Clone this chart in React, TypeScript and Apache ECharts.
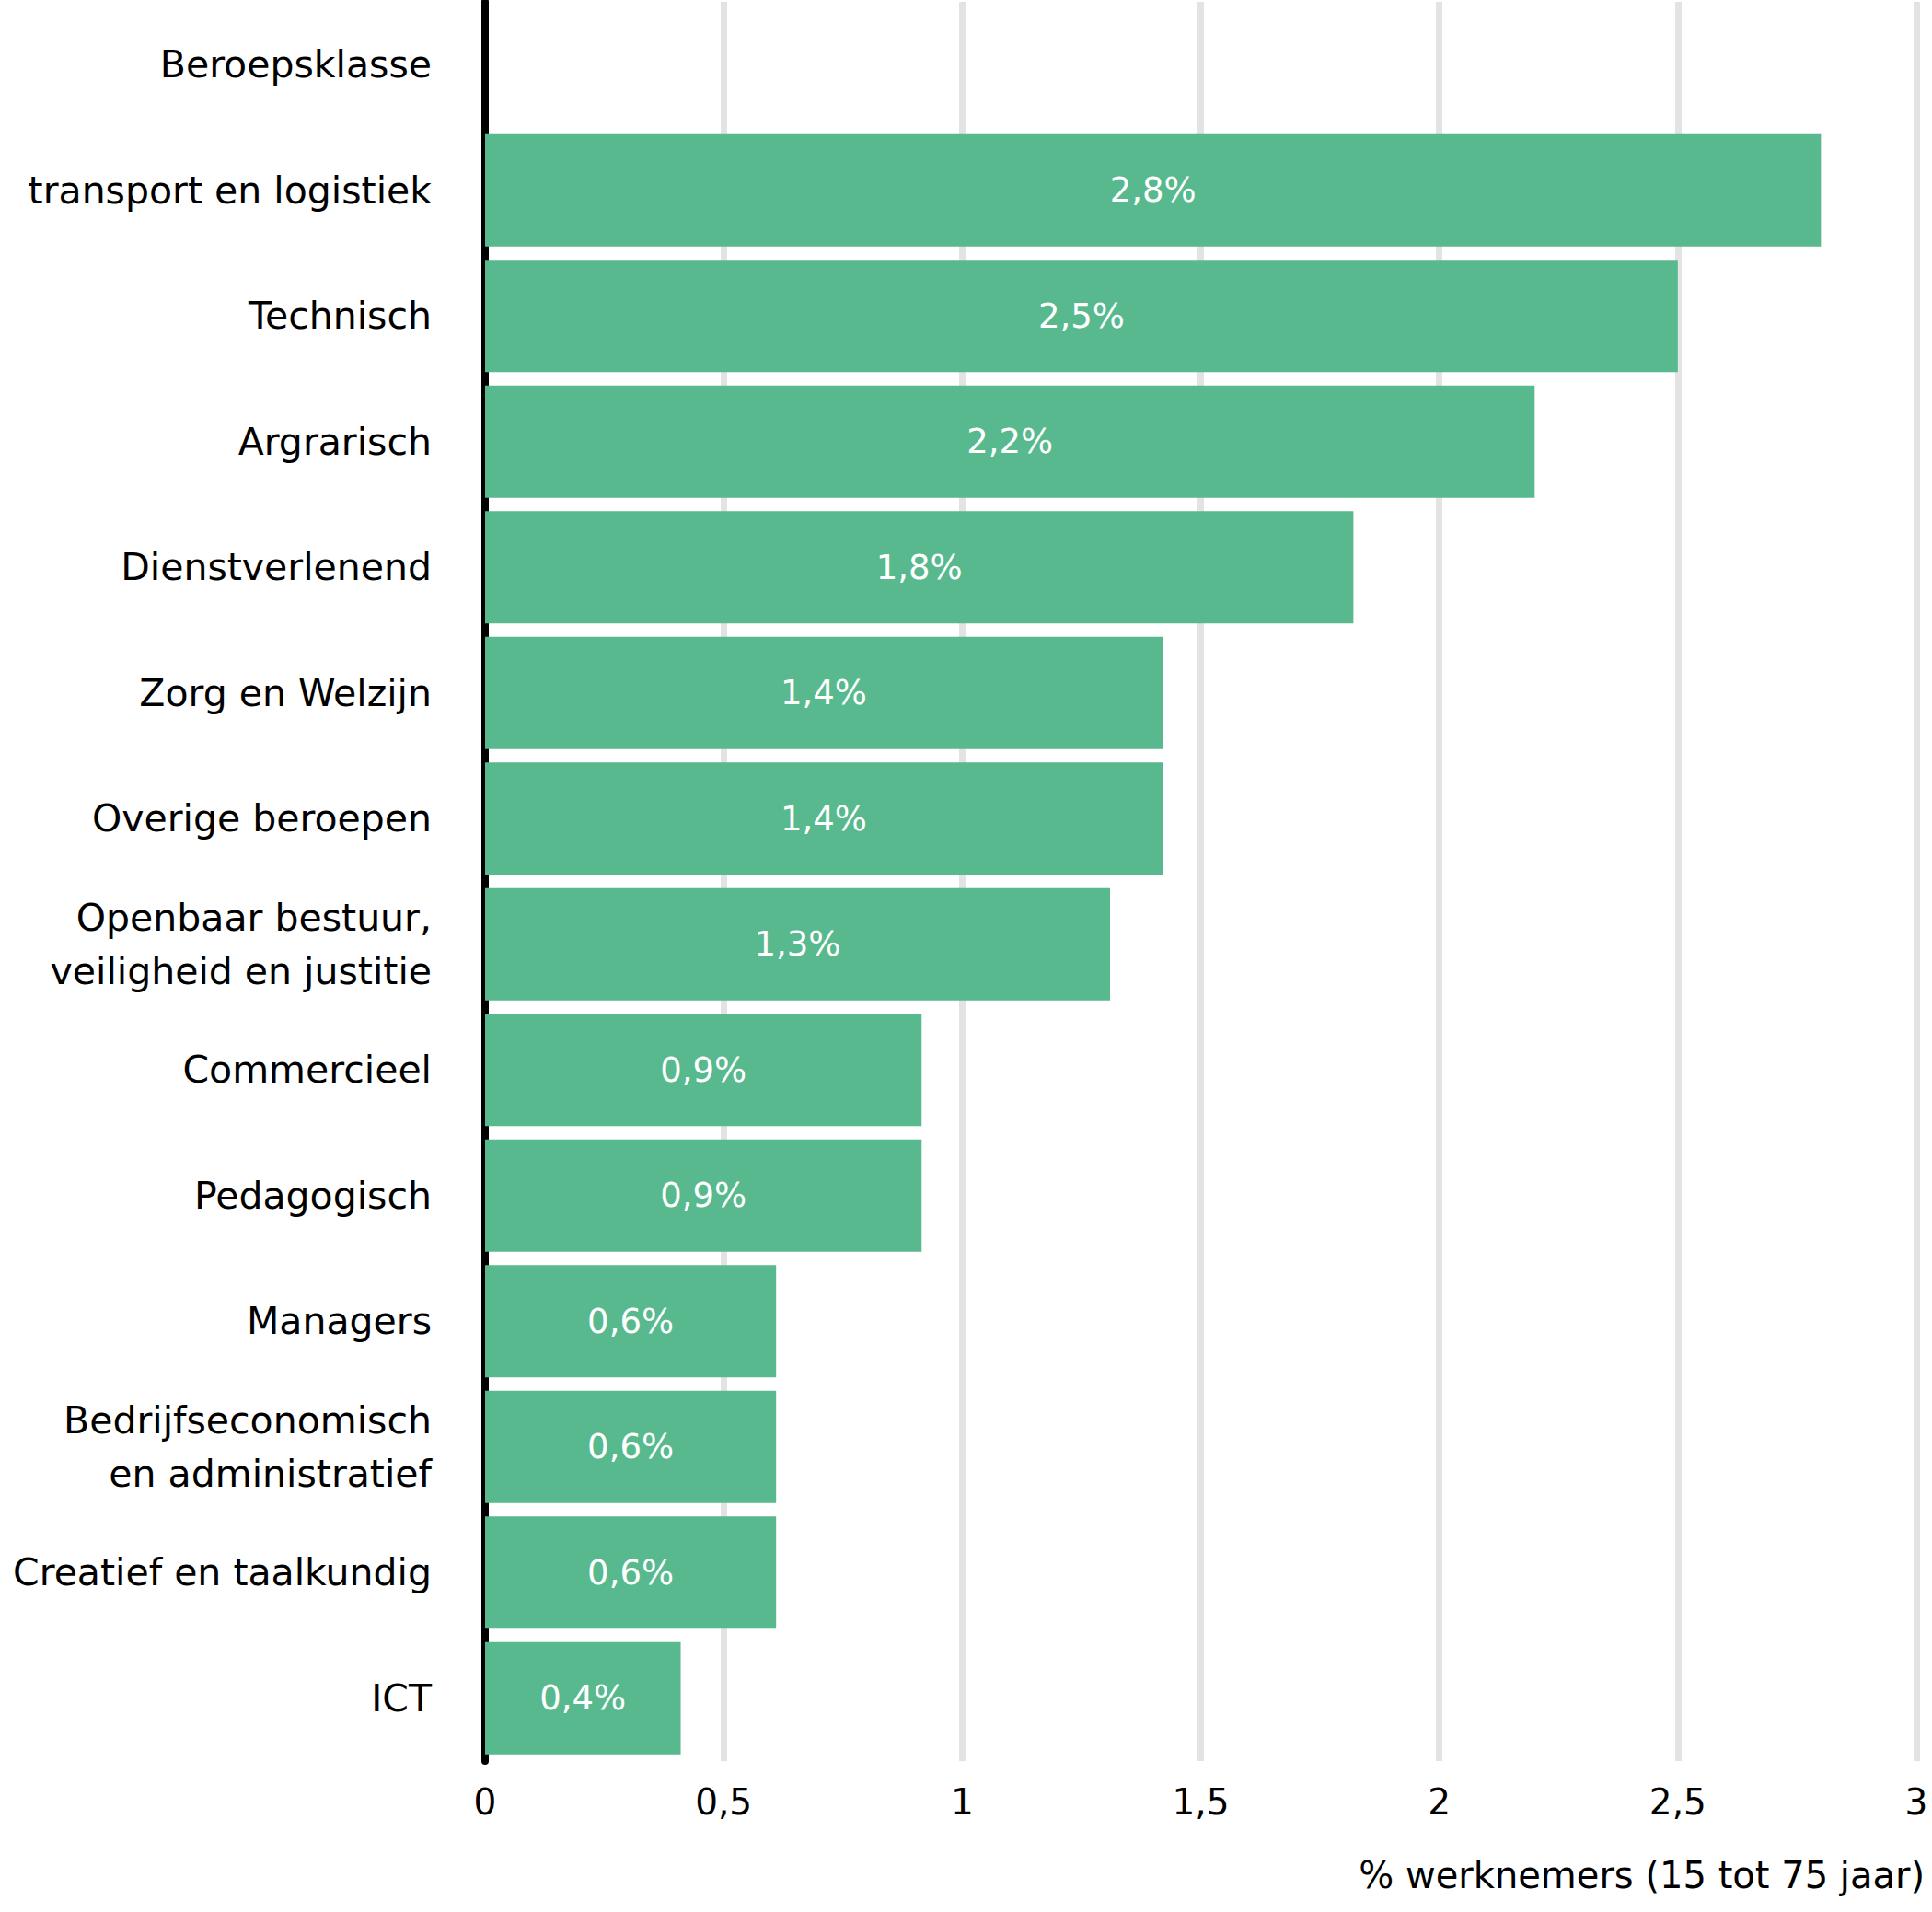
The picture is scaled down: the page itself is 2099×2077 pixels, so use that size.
import React, { useEffect, useRef } from "react";
import * as echarts from "echarts";

const categories = [
  "Beroepsklasse",
  "transport en logistiek",
  "Technisch",
  "Argrarisch",
  "Dienstverlenend",
  "Zorg en Welzijn",
  "Overige beroepen",
  "Openbaar bestuur,\nveiligheid en justitie",
  "Commercieel",
  "Pedagogisch",
  "Managers",
  "Bedrijfseconomisch\nen administratief",
  "Creatief en taalkundig",
  "ICT",
];

const values: (number | null)[] = [
  null, 2.8, 2.5, 2.2, 1.82, 1.42, 1.42, 1.31, 0.915, 0.915, 0.61, 0.61, 0.61, 0.41,
];

const xTicks = { min: 0, max: 3, interval: 0.5 };
const xAxisTitle = "% werknemers (15 tot 75 jaar)";

const FONT = "'DejaVu Sans', 'Noto Sans', sans-serif";

export default function App() {
  const ref = useRef<HTMLDivElement>(null);
  useEffect(() => {
    document.body.style.margin = "0";
    if (!ref.current) return;
    const chart = echarts.init(ref.current, null, { renderer: "svg" });
    chart.setOption({
      animation: false,
      backgroundColor: "#ffffff",
      textStyle: { fontFamily: FONT },
      grid: { left: 527, right: 17, top: 2, bottom: 164, containLabel: false },
      xAxis: {
        type: "value",
        min: xTicks.min,
        max: xTicks.max,
        interval: xTicks.interval,
        axisLine: { show: false },
        axisTick: { show: false },
        axisLabel: {
          color: "#000",
          fontSize: 39,
          fontFamily: FONT,
          margin: 25,
          formatter: (v: number) => String(v).replace(".", ","),
        },
        splitLine: { show: true, lineStyle: { color: "#e3e3e3", width: 7 } },
      },
      yAxis: {
        type: "category",
        inverse: true,
        data: categories,
        axisLine: { show: true, lineStyle: { color: "#000", width: 8 } },
        axisTick: { show: false },
        axisLabel: {
          color: "#000",
          fontSize: 41,
          fontFamily: FONT,
          margin: 58,
          lineHeight: 58,
          align: "right",
        },
      },
      series: [
        {
          type: "bar",
          data: values.map((v) => (v === null ? "-" : v)),
          barCategoryGap: "10.5%",
          itemStyle: { color: "#57b98d" },
          label: {
            show: true,
            position: "inside",
            color: "#ffffff",
            fontSize: 37,
            fontFamily: FONT,
            formatter: (p: any) =>
              Number(p.value).toFixed(1).replace(".", ",") + "%",
          },
        },
      ],
      graphic: [
        {
          type: "text",
          right: 8,
          top: 2017,
          style: {
            text: xAxisTitle,
            fill: "#000",
            font: `40px ${FONT}`,
          },
        },
      ],
    });
    return () => chart.dispose();
  }, []);
  return <div ref={ref} style={{ width: 2099, height: 2077 }} />;
}
